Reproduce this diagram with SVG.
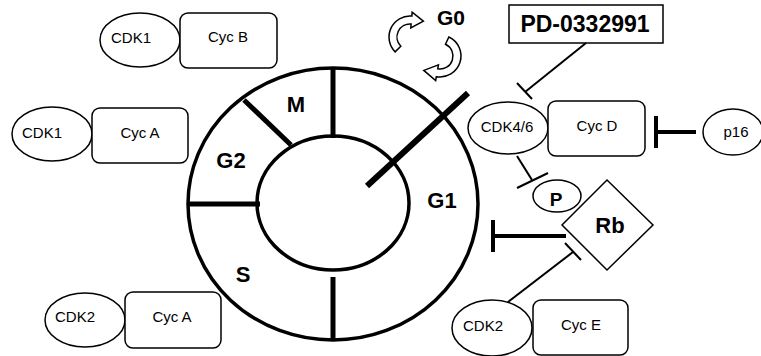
<svg xmlns="http://www.w3.org/2000/svg" width="761" height="356" viewBox="0 0 761 356">
<style>
.shape{fill:#fff;stroke:#000;stroke-width:1.5}
.lbl{font-family:"Liberation Sans",Arial,sans-serif;font-size:15px;text-anchor:middle;fill:#000}
.bold{font-family:"Liberation Sans",Arial,sans-serif;font-weight:bold;text-anchor:middle;fill:#000}
.ring{fill:none;stroke:#000;stroke-width:3.5}
.div{stroke:#000;stroke-width:5;fill:none}
.thin{stroke:#000;stroke-width:2;fill:none}
.thick{stroke:#000;stroke-width:4;fill:none}
</style>
<rect width="761" height="356" fill="#fff"/>
<g id="cycle">
<ellipse class="ring" cx="333" cy="204" rx="145" ry="136"/>
<ellipse class="ring" cx="333" cy="203" rx="76" ry="67"/>
<line class="div" x1="333" y1="68" x2="333" y2="138"/>
<line class="div" x1="333" y1="277" x2="333" y2="340"/>
<line class="div" x1="188" y1="204" x2="260" y2="204"/>
<line class="div" x1="244" y1="100" x2="291" y2="145"/>
<line stroke="#000" stroke-width="6" x1="367" y1="186" x2="468" y2="93"/>
<text class="bold" font-size="22" x="296" y="112">M</text>
<text class="bold" font-size="22" x="231" y="168">G2</text>
<text class="bold" font-size="22" x="442" y="208">G1</text>
<text class="bold" font-size="22" x="243" y="282">S</text>
</g>
<g id="g0">
<path class="shape" d="M400.8,46.2 L395.15,51.85 A21,21 0 0 1 411.83,16.08 L412.18,12.1 L423.4,21.1 L410.78,28.03 L411.13,24.05 A13,13 0 0 0 400.8,46.2 Z"/>
<path class="shape" d="M445.49,44.22 L448.87,36.97 A21,21 0 0 1 436.35,76.68 L435.66,80.62 L423.8,70.4 L438.44,64.86 L437.74,68.8 A13,13 0 0 0 445.49,44.22 Z"/>
<text class="bold" font-size="21" x="451" y="25">G0</text>
</g>
<g id="cdk1-cycb">
<ellipse class="shape" cx="140" cy="40" rx="40" ry="27"/>
<rect class="shape" x="180" y="13" width="97" height="55" rx="8"/>
<text class="lbl" x="131" y="43">CDK1</text>
<text class="lbl" x="228" y="42">Cyc B</text>
</g>
<g id="cdk1-cyca">
<ellipse class="shape" cx="52" cy="134" rx="40" ry="27"/>
<rect class="shape" x="92" y="108" width="96" height="55" rx="8"/>
<text class="lbl" x="42" y="138">CDK1</text>
<text class="lbl" x="140" y="138">Cyc A</text>
</g>
<g id="cdk2-cyca">
<ellipse class="shape" cx="85" cy="320" rx="40" ry="27"/>
<rect class="shape" x="125" y="292" width="96" height="56" rx="8"/>
<text class="lbl" x="75" y="322">CDK2</text>
<text class="lbl" x="172" y="322">Cyc A</text>
</g>
<g id="pd">
<rect fill="#fff" stroke="#000" stroke-width="1.5" x="509" y="5" width="154" height="38"/>
<text class="bold" font-size="23" x="585" y="32">PD-0332991</text>
</g>
<g id="cdk46-cycd">
<ellipse class="shape" cx="508" cy="128" rx="40" ry="26"/>
<rect class="shape" x="548" y="101" width="97" height="55" rx="8"/>
<text class="lbl" x="507" y="132">CDK4/6</text>
<text class="lbl" x="597" y="131">Cyc D</text>
</g>
<g id="p16">
<ellipse class="shape" cx="733" cy="132" rx="30" ry="23"/>
<text class="lbl" x="736" y="137">p16</text>
</g>
<g id="p">
<ellipse class="shape" cx="557" cy="196" rx="24" ry="16"/>
<text class="bold" font-size="19" x="556" y="206">P</text>
</g>
<g id="rb">
<polygon class="shape" points="607,180 653,225 607,270 562,225"/>
<text class="bold" font-size="22" x="610" y="233">Rb</text>
</g>
<g id="cdk2-cyce">
<ellipse class="shape" cx="492" cy="328" rx="40" ry="28"/>
<rect class="shape" x="533" y="300" width="95" height="55" rx="8"/>
<text class="lbl" x="483" y="331">CDK2</text>
<text class="lbl" x="581" y="330">Cyc E</text>
</g>
<g id="connectors">
<line class="thin" x1="586" y1="43" x2="525" y2="92"/>
<line class="thin" x1="517" y1="83" x2="532" y2="99"/>
<line class="thick" x1="696" y1="132" x2="656" y2="132"/>
<line class="thick" x1="656" y1="116" x2="656" y2="148"/>
<line class="thin" x1="517" y1="156" x2="532" y2="180"/>
<line class="thin" x1="517" y1="188" x2="548" y2="173"/>
<line class="thick" x1="566" y1="236" x2="493" y2="236"/>
<line class="thick" x1="493" y1="220" x2="493" y2="252"/>
<line class="thin" x1="508" y1="302" x2="573" y2="252"/>
<line class="thin" x1="565" y1="243" x2="581" y2="260"/>
</g>
</svg>
